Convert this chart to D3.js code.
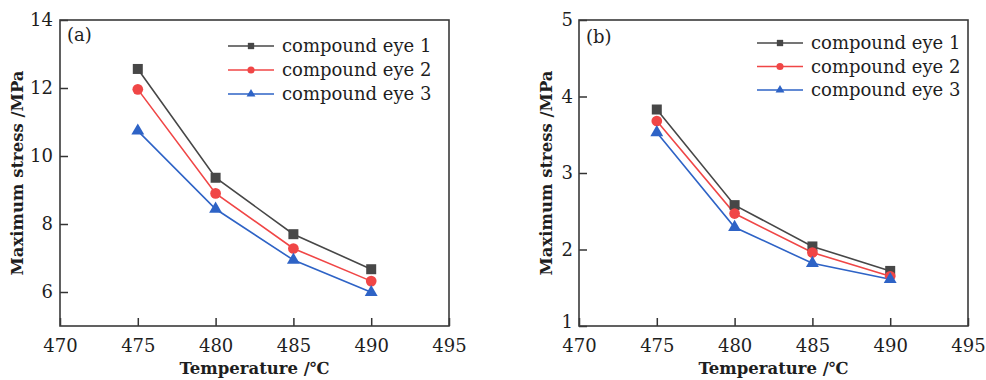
<!DOCTYPE html>
<html>
<head>
<meta charset="utf-8">
<script src="https://cdn.jsdelivr.net/npm/d3@7"></script>
<style>
  body { margin: 0; background: #fff; }
  svg { display: block; font-family: "DejaVu Serif", serif; }
</style>
</head>
<body>
<div id="chart"></div>
<script>
// data
const temps = [475, 480, 485, 490];
const xTicks = [470, 475, 480, 485, 490, 495];
const seriesNames = ["compound eye 1", "compound eye 2", "compound eye 3"];

const eye1A = [12.56, 9.36, 7.70, 6.67];
const eye2A = [11.96, 8.90, 7.28, 6.32];
const eye3A = [10.74, 8.44, 6.94, 5.99];
const yTicksA = [6, 8, 10, 12, 14];

const eye1B = [3.83, 2.58, 2.04, 1.72];
const eye2B = [3.68, 2.47, 1.96, 1.65];
const eye3B = [3.53, 2.29, 1.82, 1.61];
const yTicksB = [1, 2, 3, 4, 5];

const colors = ["#474747", "#f04646", "#2e63c6"];
const symbols = [d3.symbolSquare, d3.symbolCircle, d3.symbolTriangle];
const markSize = [100, 90, 72];
const legendSize = [40, 40, 34];

const svg = d3.select("#chart").append("svg")
    .attr("width", 986)
    .attr("height", 380);

svg.append("rect").attr("width", 986).attr("height", 380).attr("fill", "#fff");

function drawPanel(opts) {
    const { left, top, width, height, yDomain, yTicks, series, tag, legend, yPad, yTitleX } = opts;

    const g = svg.append("g").attr("transform", `translate(${left},${top})`);

    const x = d3.scaleLinear().domain([470, 495]).range([0, width]);
    const y = d3.scaleLinear().domain(yDomain).range([height, 0]);

    // x axis
    const xAxis = g.append("g")
        .attr("transform", `translate(0,${height})`)
        .call(d3.axisBottom(x).tickValues(xTicks).tickFormat(d3.format("d"))
            .tickSizeInner(-8).tickSizeOuter(0).tickPadding(13));
    // y axis
    const yAxis = g.append("g")
        .call(d3.axisLeft(y).tickValues(yTicks).tickFormat(d3.format("d"))
            .tickSizeInner(-8).tickSizeOuter(0).tickPadding(yPad));

    [xAxis, yAxis].forEach(a => {
        a.select(".domain").remove();
        a.selectAll("line").attr("stroke", "#333").attr("stroke-width", 1.5);
        a.selectAll("text").attr("fill", "#1e1e1e").style("font-size", "18px").style("font-family", "DejaVu Serif");
    });
    // bottom y label sits right on the corner, lift it a little off the x labels
    yAxis.selectAll(".tick text").filter(d => d === yDomain[0]).attr("dy", "0.1em");

    // frame
    g.append("rect")
        .attr("width", width)
        .attr("height", height)
        .attr("fill", "none")
        .attr("stroke", "#3a3a3a")
        .attr("stroke-width", 1.6);

    const line = d3.line()
        .x((d, i) => x(temps[i]))
        .y(d => y(d));

    series.forEach((vals, s) => {
        g.append("path")
            .datum(vals)
            .attr("fill", "none")
            .attr("stroke", colors[s])
            .attr("stroke-width", 1.6)
            .attr("d", line);
    });
    series.forEach((vals, s) => {
        g.selectAll(".m" + s)
            .data(vals)
            .enter()
            .append("path")
            .attr("class", "m" + s)
            .attr("transform", (d, i) => `translate(${x(temps[i])},${y(d)})`)
            .attr("d", d3.symbol().type(symbols[s]).size(markSize[s]))
            .attr("fill", colors[s]);
    });

    // panel tag
    g.append("text")
        .attr("x", tag.x)
        .attr("y", tag.y)
        .style("font-size", "18px")
        .attr("fill", "#1e1e1e")
        .text(tag.text);

    // legend
    seriesNames.forEach((name, s) => {
        const ly = legend.y + s * legend.step;
        g.append("line")
            .attr("x1", legend.x).attr("x2", legend.x + 46)
            .attr("y1", ly).attr("y2", ly)
            .attr("stroke", colors[s]).attr("stroke-width", 1.6);
        g.append("path")
            .attr("transform", `translate(${legend.x + 23},${ly})`)
            .attr("d", d3.symbol().type(symbols[s]).size(legendSize[s]))
            .attr("fill", colors[s]);
        g.append("text")
            .attr("x", legend.x + 54)
            .attr("y", ly)
            .attr("dy", "0.35em")
            .style("font-size", "18px")
            .attr("fill", "#1e1e1e")
            .text(name);
    });

    // axis titles
    g.append("text")
        .attr("x", width / 2)
        .attr("y", height + 48)
        .attr("text-anchor", "middle")
        .style("font-size", "16.5px")
        .style("font-weight", "bold")
        .attr("fill", "#1e1e1e")
        .text("Temperature /℃");

    g.append("text")
        .attr("transform", "rotate(-90)")
        .attr("x", -height / 2)
        .attr("y", yTitleX)
        .attr("text-anchor", "middle")
        .style("font-size", "16.5px")
        .style("font-weight", "bold")
        .attr("fill", "#1e1e1e")
        .text("Maximum stress /MPa");
}

drawPanel({
    left: 60, top: 20, width: 389, height: 306,
    yDomain: [5, 14], yTicks: yTicksA, yPad: 7,
    series: [eye1A, eye2A, eye3A],
    tag: { x: 7, y: 21, text: "(a)" },
    legend: { x: 168, y: 26, step: 24 },
    yTitleX: -37
});

drawPanel({
    left: 579, top: 20, width: 389, height: 306,
    yDomain: [1, 5], yTicks: yTicksB, yPad: 6,
    series: [eye1B, eye2B, eye3B],
    tag: { x: 7, y: 23, text: "(b)" },
    legend: { x: 178, y: 23, step: 23.5 },
    yTitleX: -27
});
</script>
</body>
</html>
